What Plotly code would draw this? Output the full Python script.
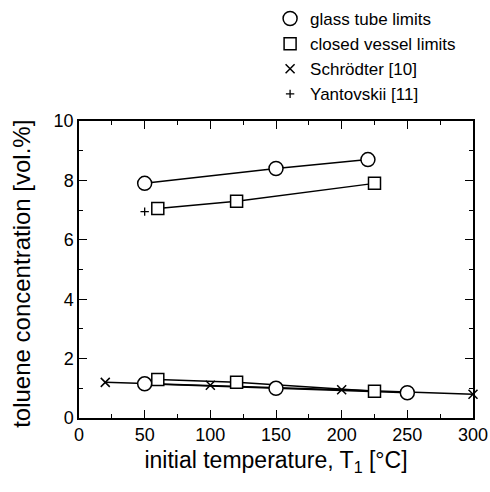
import plotly.graph_objects as go

# initial temperature [°C] and toluene concentration [vol.%]
glass_upper_t = [50, 150, 220]
glass_upper_c = [7.9, 8.4, 8.7]
glass_lower_t = [50, 150, 250]
glass_lower_c = [1.15, 1.0, 0.85]

vessel_upper_t = [60, 120, 225]
vessel_upper_c = [7.05, 7.3, 7.9]
vessel_lower_t = [60, 120, 225]
vessel_lower_c = [1.3, 1.2, 0.9]

schroedter_t = [20, 100, 200, 300]
schroedter_c = [1.2, 1.1, 0.95, 0.8]

yantovskii_t = [50]
yantovskii_c = [6.95]

x_ticks = [0, 50, 100, 150, 200, 250, 300]
y_ticks = [0, 2, 4, 6, 8, 10]

FONT = "Liberation Sans, Arial, Helvetica, sans-serif"
black = "black"

fig = go.Figure()


def fit_line(t, c):
    """Connecting line through a series, kept out of the legend."""
    return go.Scatter(x=t, y=c, mode="lines", showlegend=False, hoverinfo="skip",
                      line=dict(color=black, width=1.5))


def marks(t, c, symbol, size, name, group, show, fill="white", lw=1.5):
    return go.Scatter(
        x=t, y=c, mode="markers", name=name, legendgroup=group, showlegend=show,
        marker=dict(symbol=symbol, size=size, color=fill,
                    line=dict(color=black, width=lw)),
        cliponaxis=False,
    )


# connecting lines
for t, c in [(glass_upper_t, glass_upper_c), (glass_lower_t, glass_lower_c),
             (vessel_upper_t, vessel_upper_c), (vessel_lower_t, vessel_lower_c),
             (schroedter_t, schroedter_c)]:
    fig.add_trace(fit_line(t, c))

# symbols
fig.add_trace(marks(glass_upper_t, glass_upper_c, "circle", 14, "glass tube limits", "g", True))
fig.add_trace(marks(glass_lower_t, glass_lower_c, "circle", 14, "glass tube limits", "g", False))
fig.add_trace(marks(vessel_upper_t, vessel_upper_c, "square", 12, "closed vessel limits", "v", True))
fig.add_trace(marks(vessel_lower_t, vessel_lower_c, "square", 12, "closed vessel limits", "v", False))
fig.add_trace(marks(schroedter_t, schroedter_c, "x-thin", 9, "Schrödter [10]", "s", True, fill=black))
fig.add_trace(marks(yantovskii_t, yantovskii_c, "cross-thin", 6, "Yantovskii [11]", "y", True,
                    fill=black, lw=1.3))

axis_common = dict(
    showline=True, linecolor=black, linewidth=1.5, mirror="allticks",
    ticks="inside", ticklen=8, tickwidth=1.2, tickcolor=black,
    showgrid=False, zeroline=False,
    tickfont=dict(family=FONT, size=18, color=black),
)

fig.update_xaxes(
    range=[0, 300], tickvals=x_ticks,
    minor=dict(ticks="inside", dtick=25, ticklen=4, tickwidth=1.2, tickcolor=black, showgrid=False),
    title=dict(text="initial temperature, T<sub>1</sub> [°C]",
               font=dict(family=FONT, size=23, color=black), standoff=8),
    **axis_common,
)
fig.update_yaxes(
    range=[0, 10], tickvals=y_ticks,
    minor=dict(ticks="inside", dtick=1, ticklen=4, tickwidth=1.2, tickcolor=black, showgrid=False),
    **axis_common,
)

# vertical axis title, set close to the left edge
fig.add_annotation(
    text="toluene concentration [vol.%]", textangle=-90,
    xref="paper", yref="paper", x=-0.145, y=0.485,
    xanchor="center", yanchor="middle", showarrow=False,
    font=dict(family=FONT, size=24, color=black),
)

fig.update_layout(
    width=490, height=492,
    margin=dict(l=79, r=17, t=121, b=74, autoexpand=False),
    plot_bgcolor="white", paper_bgcolor="white",
    font=dict(family=FONT, color=black),
    showlegend=True,
    legend=dict(
        x=0.485, y=0.998, xanchor="left", yanchor="top",
        yref="container", bgcolor="rgba(0,0,0,0)",
        font=dict(family=FONT, size=17, color=black),
        tracegroupgap=0, itemwidth=30,
    ),
)

fig.write_html("out.html")
